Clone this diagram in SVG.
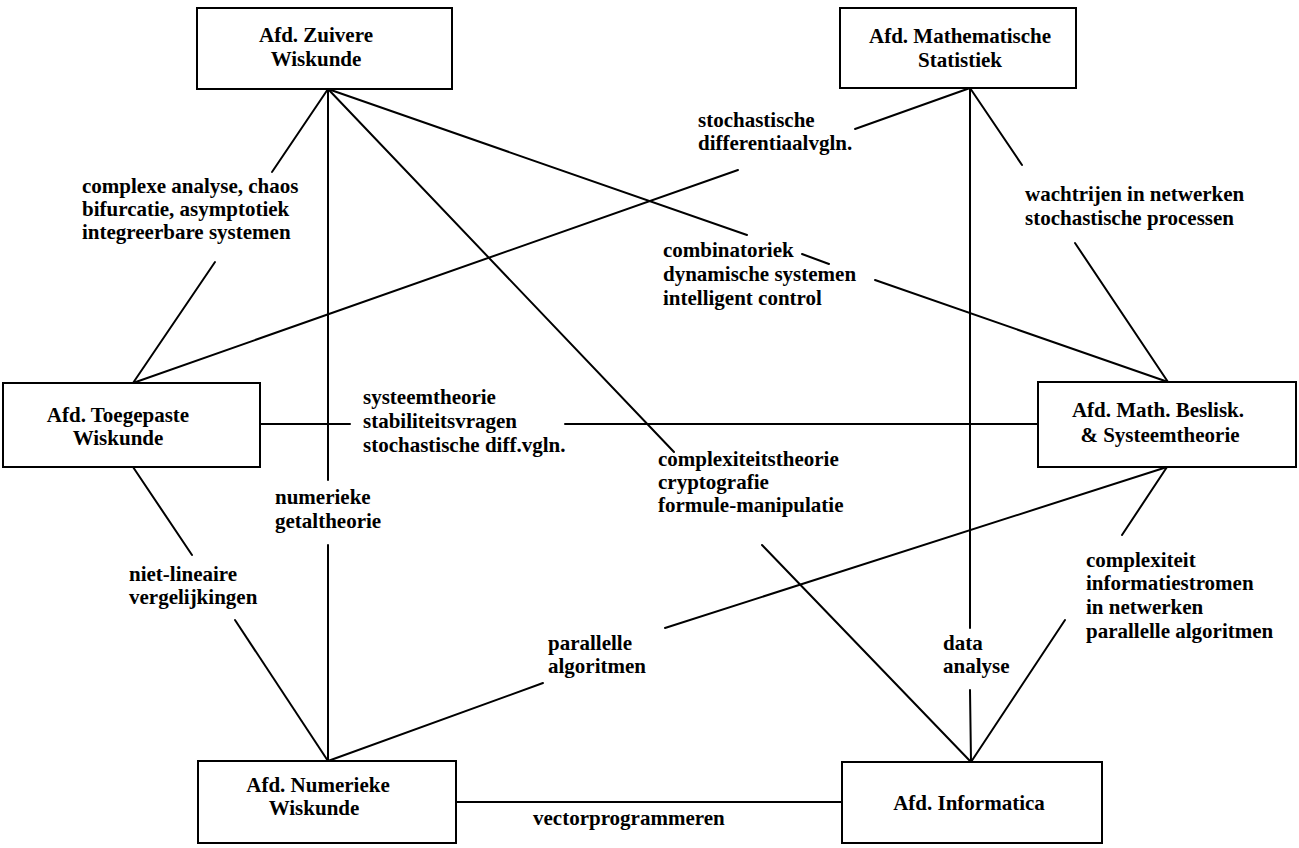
<svg xmlns="http://www.w3.org/2000/svg" width="1299" height="848" viewBox="0 0 1299 848">
<style>
.box{fill:#fff;stroke:#000;stroke-width:2}
.c line{stroke:#000;stroke-width:2;stroke-linecap:round}
text{font-family:"Liberation Serif","Times New Roman",serif;font-weight:bold;font-size:21px;fill:#000}
.m{text-anchor:middle}
</style>
<rect width="1299" height="848" fill="#fff"/>
<g id="connectors" class="c">
<!-- Zuivere -> Toegepaste -->
<line x1="328" y1="89" x2="272" y2="172"/>
<line x1="215" y1="262" x2="133" y2="383"/>
<!-- Zuivere -> Numerieke -->
<line x1="328" y1="89" x2="328" y2="480"/>
<line x1="328" y1="545" x2="328" y2="761"/>
<!-- Zuivere -> Informatica -->
<line x1="328" y1="89" x2="674" y2="452"/>
<line x1="762" y1="545" x2="971" y2="762"/>
<!-- Zuivere -> Beslisk -->
<line x1="328" y1="89" x2="747" y2="235"/>
<line x1="802" y1="254" x2="829" y2="264"/>
<line x1="875" y1="280" x2="1168" y2="382"/>
<!-- Toegepaste -> Mathematische -->
<line x1="133" y1="383" x2="738" y2="170"/>
<line x1="855" y1="129" x2="970" y2="88"/>
<!-- Toegepaste -> Beslisk -->
<line x1="260" y1="424" x2="350" y2="424"/>
<line x1="565" y1="424" x2="1038" y2="424"/>
<!-- Mathematische -> Informatica -->
<line x1="970" y1="88" x2="970" y2="628"/>
<line x1="970" y1="690" x2="971" y2="762"/>
<!-- Mathematische -> Beslisk -->
<line x1="970" y1="88" x2="1022" y2="165"/>
<line x1="1075" y1="243" x2="1168" y2="382"/>
<!-- Beslisk -> Numerieke -->
<line x1="1167" y1="467" x2="665" y2="628"/>
<line x1="543" y1="683" x2="328" y2="761"/>
<!-- Beslisk -> Informatica -->
<line x1="1167" y1="467" x2="1122" y2="535"/>
<line x1="1065" y1="620" x2="971" y2="762"/>
<!-- Toegepaste -> Numerieke -->
<line x1="133" y1="467" x2="192" y2="555"/>
<line x1="235" y1="620" x2="328" y2="761"/>
<!-- Numerieke -> Informatica -->
<line x1="456" y1="802" x2="842" y2="802"/>
</g>
<g id="labels">
<text x="82" y="193">complexe analyse, chaos</text>
<text x="82" y="216">bifurcatie, asymptotiek</text>
<text x="82" y="239">integreerbare systemen</text>
<text x="698" y="127">stochastische</text>
<text x="698" y="150">differentiaalvgln.</text>
<text x="663" y="257">combinatoriek</text>
<text x="663" y="281">dynamische systemen</text>
<text x="663" y="305">intelligent control</text>
<text x="1025" y="201">wachtrijen in netwerken</text>
<text x="1025" y="225">stochastische processen</text>
<text x="363" y="404">systeemtheorie</text>
<text x="363" y="428">stabiliteitsvragen</text>
<text x="363" y="452">stochastische diff.vgln.</text>
<text x="275" y="504">numerieke</text>
<text x="275" y="528">getaltheorie</text>
<text x="658" y="466">complexiteitstheorie</text>
<text x="658" y="489">cryptografie</text>
<text x="658" y="512">formule-manipulatie</text>
<text x="129" y="581">niet-lineaire</text>
<text x="129" y="604">vergelijkingen</text>
<text x="1086" y="567">complexiteit</text>
<text x="1086" y="590">informatiestromen</text>
<text x="1086" y="614">in netwerken</text>
<text x="1086" y="638">parallelle algoritmen</text>
<text x="548" y="650">parallelle</text>
<text x="548" y="673">algoritmen</text>
<text x="943" y="650">data</text>
<text x="943" y="673">analyse</text>
<text x="533" y="825">vectorprogrammeren</text>
</g>
<g id="node-zuivere">
<rect class="box" x="197" y="8" width="255" height="81"/>
<text class="m" x="316" y="42">Afd. Zuivere</text>
<text class="m" x="316" y="66">Wiskunde</text>
</g>
<g id="node-statistiek">
<rect class="box" x="840" y="8" width="236" height="80"/>
<text class="m" x="960" y="43">Afd. Mathematische</text>
<text class="m" x="960" y="67">Statistiek</text>
</g>
<g id="node-toegepaste">
<rect class="box" x="3" y="383" width="257" height="84"/>
<text class="m" x="118" y="422">Afd. Toegepaste</text>
<text class="m" x="118" y="445">Wiskunde</text>
</g>
<g id="node-beslisk">
<rect class="box" x="1038" y="382" width="258" height="85"/>
<text class="m" x="1158" y="417">Afd. Math. Beslisk.</text>
<text class="m" x="1160" y="442">&amp; Systeemtheorie</text>
</g>
<g id="node-numerieke">
<rect class="box" x="198" y="761" width="258" height="82"/>
<text class="m" x="318" y="792">Afd. Numerieke</text>
<text class="m" x="314" y="815">Wiskunde</text>
</g>
<g id="node-informatica">
<rect class="box" x="842" y="762" width="260" height="81"/>
<text class="m" x="969" y="810">Afd. Informatica</text>
</g>
</svg>
